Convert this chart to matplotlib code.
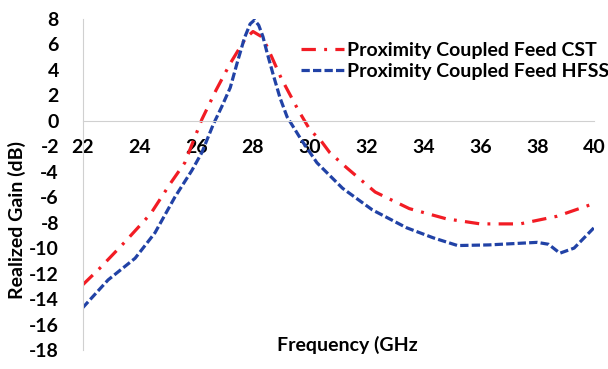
import matplotlib.pyplot as plt

# Realized gain of the proximity coupled feed antenna, CST vs HFSS
freq_cst = [22.0, 22.6, 23.5, 24.4, 25.1, 25.6, 26.2, 26.7, 27.2, 27.5, 27.75,
            28.0, 28.3, 28.5, 28.7, 29.0, 29.6, 30.0, 30.4, 30.7, 31.3, 32.3,
            33.5, 34.8, 36.0, 37.4, 38.7, 40.0]
gain_cst = [-12.9, -11.6, -9.5, -7.3, -4.9, -3.3, 0.1, 2.4, 4.5, 5.6, 6.5,
            7.0, 6.6, 5.8, 4.8, 3.3, 0.8, -0.7, -1.6, -2.5, -3.7, -5.6,
            -6.9, -7.7, -8.1, -8.1, -7.5, -6.5]

freq_hfss = [22.0, 22.9, 23.85, 24.55, 25.25, 25.85, 26.2, 26.6, 26.9, 27.2,
             27.45, 27.7, 27.9, 28.05, 28.2, 28.35, 28.5, 28.7, 28.95, 29.2,
             29.7, 30.25, 31.15, 32.2, 33.4, 34.35, 35.2, 36.3, 38.0, 38.4,
             38.8, 39.3, 40.0]
gain_hfss = [-14.7, -12.5, -10.8, -8.8, -6.0, -3.9, -2.5, -0.3, 1.1, 2.6,
             4.6, 6.5, 7.6, 7.9, 7.5, 6.6, 5.3, 3.7, 1.8, 0.3,
             -1.5, -3.3, -5.3, -7.0, -8.4, -9.2, -9.8, -9.75, -9.55, -9.7,
             -10.4, -10.0, -8.4]

x_ticks = list(range(22, 41, 2))
y_ticks = list(range(-18, 9, 2))

plt.rcParams['font.family'] = ['Lato', 'DejaVu Sans']
plt.rcParams['font.weight'] = 'bold'

fig = plt.figure(figsize=(6.08, 3.69), dpi=100)
ax = fig.add_axes([82.5 / 608, 1 - 350 / 369, (594 - 82.5) / 608, (350 - 18.8) / 369])

ax.plot(freq_cst, gain_cst, color='#F21C24', lw=2.3,
        dashes=(4.5, 2.6, 0.9, 2.6), label='Proximity Coupled Feed CST')
ax.plot(freq_hfss, gain_hfss, color='#2142A6', lw=2.3,
        dashes=(2.6, 1.0), label='Proximity Coupled Feed HFSS')

ax.set_xlim(22, 40)
ax.set_ylim(-18, 8)
ax.set_xticks(x_ticks)
ax.set_yticks(y_ticks)
ax.set_yticklabels([str(v) for v in y_ticks])

for side in ('top', 'right'):
    ax.spines[side].set_visible(False)
ax.spines['bottom'].set_position(('data', 0))
ax.spines['bottom'].set_color('#D0D0D0')
ax.spines['left'].set_color('#D0D0D0')
ax.tick_params(axis='x', length=0, pad=13, labelsize=14)
ax.tick_params(axis='y', length=0, pad=17, labelsize=14)
for lbl in ax.get_xticklabels() + ax.get_yticklabels():
    lbl.set_fontweight('bold')

fig.text(17 / 608, 1 - 220 / 369, 'Realized Gain (dB)', rotation=90,
         ha='center', va='center', fontsize=14, fontweight='bold')
fig.text(347 / 608, 1 - 345 / 369, 'Frequency (GHz', ha='center',
         va='center', fontsize=14, fontweight='bold')

fig.legend(loc='center left', bbox_to_anchor=(301 / 608, 1 - 61 / 369),
           frameon=False, handlelength=2.2, handletextpad=0.15,
           labelspacing=0.22, borderpad=0, borderaxespad=0,
           prop={'weight': 'bold', 'size': 14})

fig.savefig('out.png', dpi=100)
